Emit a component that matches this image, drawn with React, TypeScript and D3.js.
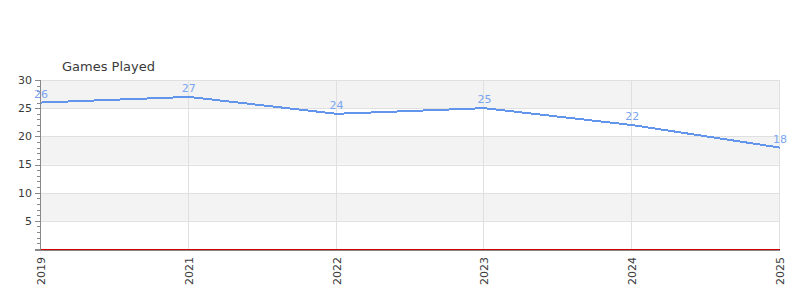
import React from "react";
import * as d3 from "d3";

const categories = ["2019", "2021", "2022", "2023", "2024", "2025"];
const gamesPlayed = [26, 27, 24, 25, 22, 18];
const yMajorTicks = [5, 10, 15, 20, 25, 30];
const chartTitle = "Games Played";

const W = 800;
const H = 300;
const M = { left: 41, right: 20, top: 80, bottom: 50 };

export default function App() {
  const x = d3
    .scalePoint<string>()
    .domain(categories)
    .range([M.left, W - M.right]);
  const y = d3.scaleLinear().domain([0, 30]).range([H - M.bottom - 1, M.top]);

  const pts = categories.map((c, i) => [x(c)!, y(gamesPlayed[i])] as [number, number]);
  const line = d3.line<[number, number]>()(pts) || "";

  const bands = d3.range(0, 30, 5);
  const minor = d3.range(0, 31, 1);
  const x0 = M.left;
  const x1 = W - M.right;
  const font = "DejaVu Sans, sans-serif";

  return (
    <svg
      width={W}
      height={H}
      style={{ position: "absolute", left: 0, top: 0, background: "#fff" }}
      fontFamily={font}
    >
      {bands.map((b, i) => (
        <rect
          key={b}
          x={x0}
          y={y(b + 5)}
          width={x1 - x0}
          height={y(b) - y(b + 5)}
          fill={i % 2 === 1 ? "#f3f3f3" : "#ffffff"}
        />
      ))}
      {yMajorTicks.map((t) => (
        <line
          key={"g" + t}
          x1={x0}
          x2={x1}
          y1={Math.round(y(t)) + 0.5}
          y2={Math.round(y(t)) + 0.5}
          stroke="#e0e0e0"
        />
      ))}
      {categories.map((c) => (
        <line
          key={"v" + c}
          x1={Math.round(x(c)!) - 0.5}
          x2={Math.round(x(c)!) - 0.5}
          y1={M.top}
          y2={y(0)}
          stroke="#e0e0e0"
        />
      ))}
      {/* y axis */}
      <line x1={x0 - 0.5} x2={x0 - 0.5} y1={M.top} y2={y(0) + 1} stroke="#888" />
      {minor.map((t) => {
        const major = t % 5 === 0;
        const yy = Math.round(y(t)) + 0.5;
        return (
          <line
            key={"m" + t}
            x1={major ? x0 - 6 : x0 - 4}
            x2={x0}
            y1={yy}
            y2={yy}
            stroke="#888"
          />
        );
      })}
      {yMajorTicks.map((t) => (
        <text
          key={"yl" + t}
          x={x0 - 9}
          y={y(t)}
          dy="0.35em"
          textAnchor="end"
          fontSize={11}
          fill="#3a3a3a"
        >
          {t}
        </text>
      ))}
      {/* x axis */}
      <line x1={x0 - 6} x2={x1} y1={Math.round(y(0)) + 1.5} y2={Math.round(y(0)) + 1.5} stroke="#888" />
      <line x1={x0} x2={x1} y1={Math.round(y(0)) + 0.5} y2={Math.round(y(0)) + 0.5} stroke="#d00000" />
      {categories.map((c) => (
        <text
          key={"xl" + c}
          transform={`translate(${x(c)! + 4},${y(0) + 8}) rotate(-90)`}
          textAnchor="end"
          fontSize={11}
          fill="#3a3a3a"
        >
          {c}
        </text>
      ))}
      <path
        d={line}
        fill="none"
        stroke="#6495ed"
        strokeWidth={2}
        shapeRendering="crispEdges"
      />
      {pts.map((p, i) => (
        <text
          key={"dl" + i}
          x={p[0]}
          y={p[1] - 5}
          textAnchor="middle"
          fontSize={11}
          fill="#7aa5f0"
        >
          {gamesPlayed[i]}
        </text>
      ))}
      <text x={62} y={71} fontSize={13} fill="#3a3a3a">
        {chartTitle}
      </text>
    </svg>
  );
}
